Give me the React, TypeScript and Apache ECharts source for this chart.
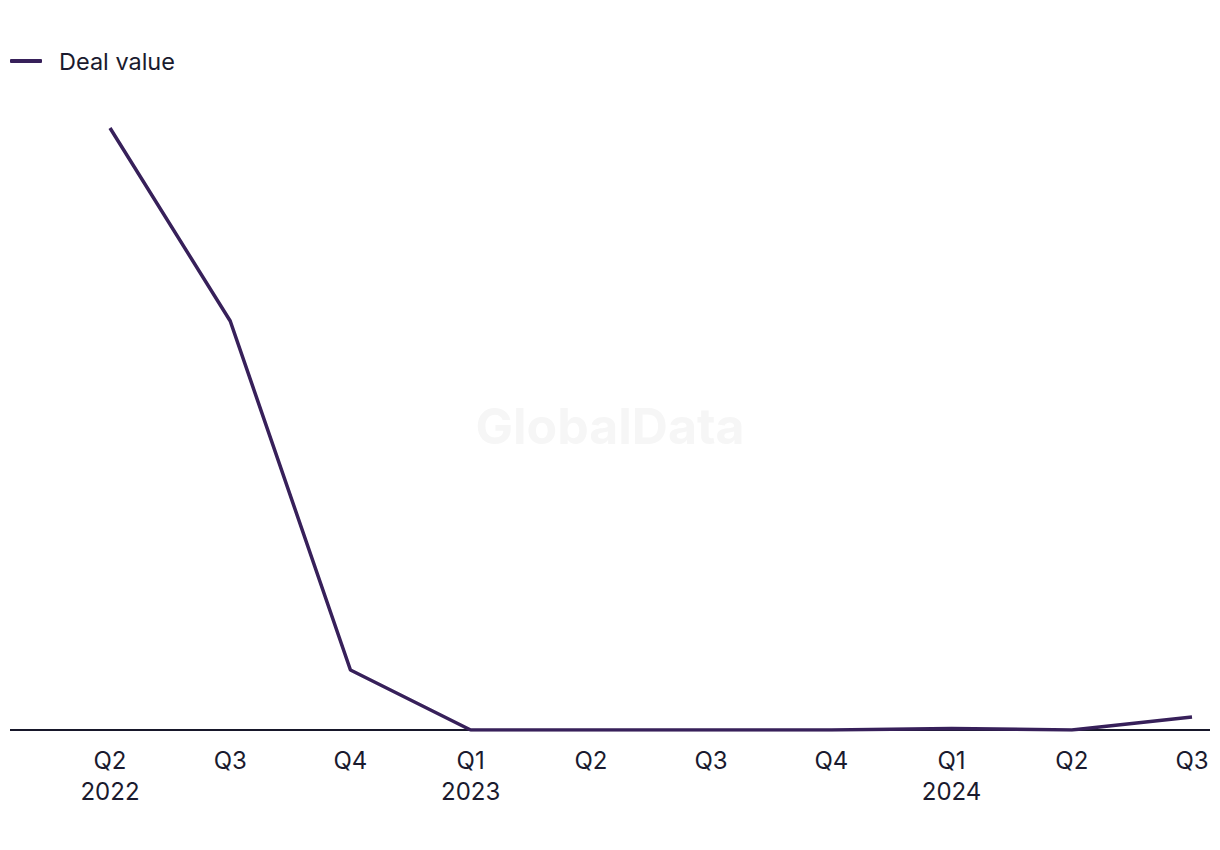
import React, { useEffect, useRef } from "react";
import * as echarts from "echarts";

const quarters = ["Q2", "Q3", "Q4", "Q1", "Q2", "Q3", "Q4", "Q1", "Q2", "Q3"];
const years = ["2022", "", "", "2023", "", "", "", "2024", "", ""];
const dealValue = [602, 409, 60, 0, 0, 0, 0, 1.5, 0, 13];
const seriesName = "Deal value";

export default function App() {
  const ref = useRef<HTMLDivElement>(null);
  useEffect(() => {
    document.body.style.margin = "0";
    const chart = echarts.init(ref.current!, null, { renderer: "svg" });
    const categories = quarters.map((q, i) => (years[i] ? q + "\n" + years[i] : q));
    chart.setOption({
      animation: false,
      backgroundColor: "#ffffff",
      textStyle: { fontFamily: "Inter, 'Liberation Sans', sans-serif" },
      legend: {
        left: 5,
        top: 44,
        icon: "roundRect",
        itemWidth: 32,
        itemHeight: 4,
        textStyle: { fontSize: 23.5, color: "#1a1a2e", padding: [0, 0, 0, 12] },
        data: [seriesName],
      },
      graphic: [
        {
          type: "text",
          left: "center",
          top: 401,
          silent: true,
          style: {
            text: "GlobalData",
            fontSize: 50,
            fontWeight: "bold",
            fontFamily: "Inter, 'Liberation Sans', sans-serif",
            fill: "#f6f6f6",
          },
        },
        {
          type: "line",
          z: 1,
          shape: { x1: 10, y1: 730, x2: 1210, y2: 730 },
          style: { stroke: "#17172a", lineWidth: 2 },
        },
      ],
      grid: { left: 110, right: 28, top: 30, bottom: 120, containLabel: false },
      xAxis: {
        type: "category",
        boundaryGap: false,
        data: categories,
        axisLine: { show: false },
        axisTick: { show: false },
        axisLabel: {
          margin: 15,
          fontSize: 24,
          lineHeight: 31,
          color: "#1a1a2e",
          interval: 0,
        },
        splitLine: { show: false },
      },
      yAxis: {
        type: "value",
        min: 0,
        max: 700,
        show: false,
        splitLine: { show: false },
      },
      series: [
        {
          name: seriesName,
          type: "line",
          data: dealValue,
          showSymbol: false,
          symbol: "none",
          z: 3,
          lineStyle: { color: "#37205a", width: 3.5 },
          itemStyle: { color: "#37205a" },
        },
      ],
    });
    return () => chart.dispose();
  }, []);
  return <div ref={ref} style={{ width: 1220, height: 850 }} />;
}
